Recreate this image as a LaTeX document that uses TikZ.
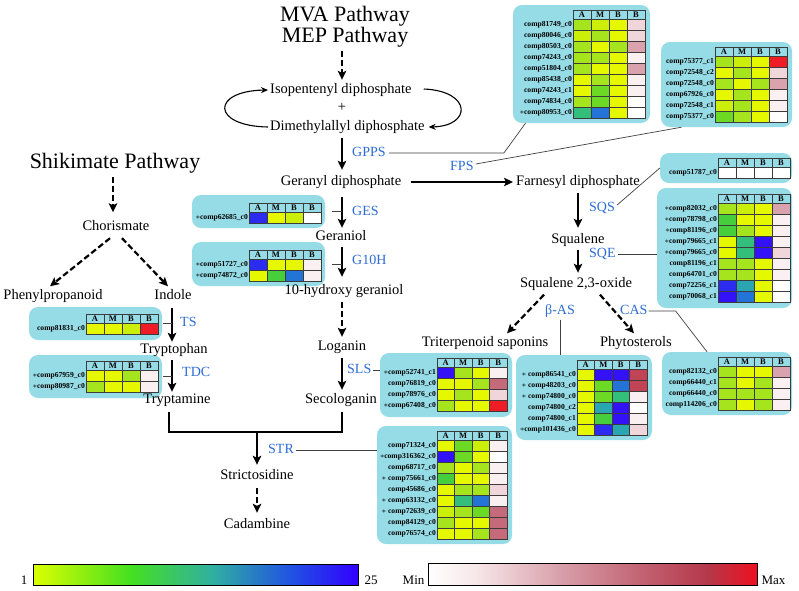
\documentclass[tikz,border=0pt]{standalone}
\usepackage{fontspec}
\setmainfont{Liberation Serif}
\usetikzlibrary{arrows.meta}
\definecolor{panelc}{RGB}{150,220,230}
\definecolor{gridc}{RGB}{60,60,60}
\definecolor{enzc}{RGB}{46,108,212}
\definecolor{hY}{HTML}{E6F800}
\definecolor{hYG}{HTML}{CCEF0A}
\definecolor{hLG}{HTML}{A6E41E}
\definecolor{hG}{HTML}{6CDA24}
\definecolor{hGG}{HTML}{46CE3C}
\definecolor{hTG}{HTML}{34BE7C}
\definecolor{hT}{HTML}{2AA6B2}
\definecolor{hLB}{HTML}{2474D8}
\definecolor{hB}{HTML}{2C2CF0}
\definecolor{hV}{HTML}{3412F8}
\definecolor{hW}{HTML}{FFFFFF}
\definecolor{hP1}{HTML}{FAF0F1}
\definecolor{hP2}{HTML}{F0D6DA}
\definecolor{hP3}{HTML}{DAA2AC}
\definecolor{hP4}{HTML}{C46A7A}
\definecolor{hP5}{HTML}{C04456}
\definecolor{hR}{HTML}{EE1C26}
\definecolor{cbA}{HTML}{DCFF00}
\definecolor{cbB}{HTML}{44E020}
\definecolor{cbC}{HTML}{30B0A0}
\definecolor{cbD}{HTML}{2050E4}
\definecolor{cbE}{HTML}{3300FF}
\definecolor{rbA}{HTML}{F6E6E8}
\definecolor{rbB}{HTML}{D8A0AA}
\definecolor{rbC}{HTML}{C26272}
\definecolor{rbD}{HTML}{B4384A}
\definecolor{rbE}{HTML}{EE1020}
\pgfdeclarehorizontalshading{bluebar}{100bp}{color(0bp)=(cbA); color(25bp)=(cbA); color(40bp)=(cbB); color(52.5bp)=(cbC); color(65bp)=(cbD); color(75bp)=(cbE); color(100bp)=(cbE)}
\pgfdeclarehorizontalshading{redbar}{100bp}{color(0bp)=(white); color(25bp)=(white); color(32.5bp)=(rbA); color(45bp)=(rbB); color(57.5bp)=(rbC); color(67.5bp)=(rbD); color(75bp)=(rbE); color(100bp)=(rbE)}
\newcommand\hstar{{\fontsize{8}{8}\selectfont$\ast$}}
\newcommand\hmap[5]{%
  \foreach \hl [count=\hi] in {A,M,B,B}{
    \node[hdr, minimum width=#4pt] (#1h\hi) at ({#2+(\hi-0.5)*#4},{#3+4.5}) {\hl};
  }
  \foreach \lab/\ka/\kb/\kc/\kd [count=\ri] in {#5}{
    \pgfmathsetmacro\ry{#3+9+(\ri-1)*11}
    \filldraw[cell, fill=\ka] (#2,\ry) rectangle ++(#4,11);
    \filldraw[cell, fill=\kb] ({#2+#4},\ry) rectangle ++(#4,11);
    \filldraw[cell, fill=\kc] ({#2+2*#4},\ry) rectangle ++(#4,11);
    \filldraw[cell, fill=\kd] ({#2+3*#4},\ry) rectangle ++(#4,11);
    \node[lab, anchor=east] (#1r\ri) at ({#2-1},{\ry+5.5}) {\lab};
  }
}
\tikzset{
  txt/.style={font=\fontsize{14.5}{16}\selectfont, inner sep=0pt, text height=10pt, text depth=3pt},
  ttl/.style={font=\fontsize{22}{24}\selectfont, inner sep=0pt, text height=14.5pt, text depth=4pt},
  enz/.style={font=\fontsize{14}{16}\selectfont, text=enzc, inner sep=0pt, text height=10pt, text depth=3pt},
  lab/.style={font=\bfseries\fontsize{7.6}{9}\selectfont, inner sep=0pt},
  hdr/.style={font=\bfseries\fontsize{8.5}{9}\selectfont, inner sep=0pt, draw=gridc, line width=0.5pt, fill=panelc, minimum height=9pt},
  cell/.style={draw=gridc, line width=0.5pt},
  pbox/.style={fill=panelc, rounded corners=9pt, inner sep=0pt, draw=none},
  rxn/.style={line width=2.2pt, -{Stealth[length=9pt,width=8.5pt,inset=2pt]}, shorten <=4pt, shorten >=4pt},
  drxn/.style={rxn, dash pattern=on 6pt off 3pt},
  conn/.style={line width=0.7pt, draw=black!75},
  cyc/.style={line width=1.1pt, -{Stealth[length=7pt,width=6pt]}},
  cbt/.style={font=\fontsize{13}{14}\selectfont, inner sep=0pt},
}
\begin{document}
\begin{tikzpicture}[x=1pt,y=-1pt]
\useasboundingbox (0,0) rectangle (799,590);
\fill[white] (0,0) rectangle (799,590);
% ---------- panels ----------
\node[pbox, minimum width=137pt, minimum height=118pt] (p1) at (581.5,64) {};
\node[pbox, minimum width=131pt, minimum height=85pt] (p2) at (726.5,84.5) {};
\node[pbox, minimum width=132pt, minimum height=30pt] (p3) at (726,168) {};
\node[pbox, minimum width=135pt, minimum height=120pt] (p4) at (724.5,248) {};
\node[pbox, minimum width=133pt, minimum height=33pt] (pges) at (258.5,211.5) {};
\node[pbox, minimum width=133pt, minimum height=44pt] (pg10) at (258.5,264) {};
\node[pbox, minimum width=133pt, minimum height=33pt] (pts) at (95.5,323.5) {};
\node[pbox, minimum width=133pt, minimum height=43pt] (ptdc) at (95.5,376.5) {};
\node[pbox, minimum width=132pt, minimum height=64pt] (psls) at (446,385) {};
\node[pbox, minimum width=135pt, minimum height=118pt] (pstr) at (444.5,485) {};
\node[pbox, minimum width=136pt, minimum height=85pt] (pbas) at (584,397.5) {};
\node[pbox, minimum width=130pt, minimum height=63pt] (pcas) at (727,383.5) {};
% ---------- heat maps ----------
\hmap{m1}{573}{10}{18}{comp81749\_c0/hLG/hYG/hY/hP2,
comp80046\_c0/hYG/hLG/hY/hP2,
comp80503\_c0/hLG/hY/hLG/hP3,
comp74243\_c0/hLG/hLG/hY/hP1,
comp51804\_c0/hLG/hY/hY/hP3,
comp85438\_c0/hY/hLG/hY/hP1,
comp74243\_c1/hY/hG/hY/hP1,
comp74834\_c0/hLG/hG/hY/hW,
\hstar comp80953\_c0/hTG/hLB/hY/hW}
\hmap{m2}{715}{47}{18}{comp75377\_c1/hLG/hYG/hY/hR,
comp72548\_c2/hY/hLG/hY/hP2,
comp72548\_c0/hLG/hY/hLG/hP3,
comp67926\_c0/hY/hLG/hY/hP1,
comp72548\_c1/hYG/hLG/hY/hP1,
comp75377\_c0/hG/hLG/hY/hW}
\hmap{m3}{718}{158}{18}{comp51787\_c0/hW/hW/hW/hW}
\hmap{m4}{718}{194}{18}{\hstar comp82032\_c0/hLG/hYG/hY/hP3,
\hstar comp78798\_c0/hGG/hY/hY/hP1,
\hstar comp81196\_c0/hGG/hLG/hY/hP1,
\hstar comp79665\_c1/hY/hTG/hV/hP1,
\hstar comp79665\_c0/hY/hTG/hV/hP2,
comp81196\_c1/hLG/hLG/hY/hP1,
comp64701\_c0/hLG/hLG/hY/hP1,
comp72256\_c1/hB/hT/hY/hW,
comp70068\_c1/hV/hLB/hY/hW}
\hmap{mges}{249}{203}{18}{\hstar comp62685\_c0/hB/hY/hYG/hW}
\hmap{mg10}{249}{250}{18}{\hstar comp51727\_c0/hB/hY/hY/hP1,
\hstar comp74872\_c0/hY/hGG/hLB/hP1}
\hmap{mts}{86}{314}{18}{comp81831\_c0/hY/hY/hYG/hR}
\hmap{mtdc}{86}{361}{18}{\hstar comp67959\_c0/hY/hY/hLG/hP1,
\hstar comp80987\_c0/hLG/hY/hY/hP1}
\hmap{msls}{437}{358}{17.5}{\hstar comp52741\_c1/hV/hLG/hY/hP1,
comp76819\_c0/hY/hY/hLG/hP4,
comp78976\_c0/hY/hLG/hY/hP2,
\hstar comp67408\_c0/hLG/hY/hY/hR}
\hmap{mstr}{437}{431}{17.5}{comp71324\_c0/hY/hG/hYG/hP1,
\hstar comp316362\_c0/hV/hG/hY/hW,
comp68717\_c0/hLG/hY/hLG/hP1,
\hstar\ comp75661\_c0/hGG/hY/hY/hP1,
comp45686\_c0/hY/hLG/hLG/hP2,
\hstar\ comp63132\_c0/hY/hTG/hLB/hP1,
\hstar\ comp72639\_c0/hYG/hLG/hG/hP4,
comp84129\_c0/hLG/hY/hY/hP4,
comp76574\_c0/hY/hY/hLG/hP4}
\hmap{mbas}{577}{360}{17.5}{\hstar\ comp86541\_c0/hY/hV/hV/hP5,
\hstar\ comp48203\_c0/hY/hG/hLB/hP5,
\hstar\ comp74800\_c0/hY/hG/hTG/hP1,
comp74800\_c2/hY/hT/hV/hW,
comp74800\_c1/hY/hGG/hV/hP1,
\hstar comp101436\_c0/hY/hB/hT/hP2}
\hmap{mcas}{718}{357}{18}{comp82132\_c0/hLG/hY/hY/hP3,
comp66440\_c1/hLG/hY/hLG/hP1,
comp66440\_c0/hLG/hLG/hLG/hP1,
comp114206\_c0/hLG/hY/hLG/hP1}
% ---------- compounds ----------
\node[ttl] (mva) at (345,16) {MVA Pathway};
\node[ttl] (mep) at (345,37) {MEP Pathway};
\node[txt, anchor=west] (ipp) at (270,90) {Isopentenyl diphosphate};
\node[txt] (plus) at (342,108) {+};
\node[txt, anchor=west] (dma) at (270,127) {Dimethylallyl diphosphate};
\node[txt] (gpp) at (341,182) {Geranyl diphosphate};
\node[txt] (ger) at (341,237) {Geraniol};
\node[txt] (hg) at (344,291) {10-hydroxy geraniol};
\node[txt] (log) at (342,347) {Loganin};
\node[txt] (sec) at (341,400) {Secologanin};
\node[txt] (far) at (578,182) {Farnesyl diphosphate};
\node[txt] (sq) at (578,240) {Squalene};
\node[txt] (ox) at (576,284) {Squalene 2,3-oxide};
\node[txt] (tri) at (485,343) {Triterpenoid saponins};
\node[txt] (phy) at (636,343) {Phytosterols};
\node[ttl] (shik) at (115,163) {Shikimate Pathway};
\node[txt] (cho) at (116,227) {Chorismate};
\node[txt] (phe) at (53,296) {Phenylpropanoid};
\node[txt] (ind) at (173,296) {Indole};
\node[txt] (trp) at (174,350) {Tryptophan};
\node[txt] (tra) at (177,400) {Tryptamine};
\node[txt] (std) at (257,476) {Strictosidine};
\node[txt] (cad) at (257,525) {Cadambine};
\coordinate (bmid) at (257,432);
% ---------- enzymes ----------
\node[enz, anchor=west] (gpps) at (352,153) {GPPS};
\node[enz, anchor=west] (fps) at (450,167) {FPS};
\node[enz, anchor=west] (ges) at (352,212) {GES};
\node[enz, anchor=west] (g10h) at (352,261) {G10H};
\node[enz, anchor=west] (ts) at (180,323) {TS};
\node[enz, anchor=west] (tdc) at (182,373) {TDC};
\node[enz, anchor=west] (sls) at (347,370) {SLS};
\node[enz, anchor=west] (str) at (268,450) {STR};
\node[enz, anchor=west] (sqs) at (589,208) {SQS};
\node[enz, anchor=west] (sqe) at (589,254) {SQE};
\node[enz] (bas) at (560,311) {β-AS};
\node[enz, anchor=west] (cas) at (620,311) {CAS};
% ---------- reactions ----------
\draw[drxn, shorten <=5pt, shorten >=3.5pt] (mep.south -| plus) -- (ipp.north -| plus);
\draw[cyc] ([xshift=-2pt]dma.west) .. controls (211,126) and (211,91) .. ([xshift=-2pt]ipp.west);
\draw[cyc] ([xshift=12pt,yshift=1pt]ipp.east) .. controls (472,91) and (472,126) .. ([xshift=4pt]dma.east);
\draw[rxn, shorten <=4.5pt, shorten >=5.5pt] (dma.south -| plus) -- (gpp.north -| plus);
\draw[rxn, shorten <=8.5pt, shorten >=2.5pt] (gpp.south -| plus) -- (ger.north -| plus);
\draw[rxn, shorten <=3.5pt, shorten >=7.5pt] (ger.south -| plus) -- (hg.north -| plus);
\draw[drxn, shorten <=4.5pt, shorten >=3.5pt] (hg.south -| plus) -- (log.north -| plus);
\draw[rxn, shorten <=4.5pt, shorten >=3.5pt] (log.south -| plus) -- (sec.north -| plus);
\draw[rxn, line width=2.6pt, shorten <=10pt, shorten >=3pt] (gpp.east) -- (far.west);
\draw[rxn, shorten <=4.5pt, shorten >=5.5pt] (far.south) -- (far.south |- sq.north);
\draw[rxn, shorten <=3.5pt, shorten >=4.5pt] (sq.south) -- (sq.south |- ox.north);
\draw[drxn, shorten <=0pt, shorten >=0pt] ([shift={(-32,4)}]ox.south) -- ([shift={(22,-3)}]tri.north);
\draw[drxn, shorten <=0pt, shorten >=0pt] ([shift={(24,4)}]ox.south) -- ([shift={(-2,-3)}]phy.north);
\draw[drxn, shorten <=5pt, shorten >=8pt] ([xshift=-2pt]shik.south) -- ([xshift=-2pt]shik.south |- cho.north);
\draw[drxn, shorten <=0pt, shorten >=0pt] ([shift={(-6,4.5)}]cho.south) -- ([shift={(-3,-3)}]phe.north);
\draw[drxn, shorten <=0pt, shorten >=0pt] ([shift={(6,4.5)}]cho.south) -- ([shift={(-5,-3)}]ind.north);
\draw[rxn, shorten <=5.5pt, shorten >=1.5pt] ([xshift=-1pt]ind.south) -- ([xshift=-1pt]ind.south |- trp.north);
\draw[rxn, shorten <=3.5pt, shorten >=1.5pt] ([xshift=-2pt]trp.south) -- ([xshift=-2pt]trp.south |- tra.north);
\draw[line width=2.4pt] ([shift={(-8,5.5)}]tra.south) |- ([shift={(1,25.5)}]sec.south) -- ([shift={(1,5.5)}]sec.south);
\draw[rxn, shorten <=0pt, shorten >=4.5pt] (bmid) -- (std.north);
\draw[drxn, shorten <=5.5pt, shorten >=5.5pt] (std.south) -- (cad.north);
% ---------- enzyme connectors ----------
\draw[conn] ([xshift=3pt]gpps.east) -- ++(115,0) -- ([xshift=-56pt]p1.south);
\draw[conn] ([shift={(2,-3)}]fps.east) -- ([xshift=-45pt]p2.south);
\draw[conn] ([shift={(2,-3)}]sqs.east) -- (p3.west);
\draw[conn] ([xshift=2pt]sqe.east) -- (sqe.east -| p4.west);
\draw[conn] ([xshift=7pt]pges.east) -- (pges.east -| plus);
\draw[conn] ([xshift=7pt]pg10.east) -- (pg10.east -| plus);
\draw[conn] ([xshift=1pt]pts.east) -- ([xshift=-1pt]pts.east -| ind);
\draw[conn] ([xshift=1pt]ptdc.east) -- ([xshift=-1pt]ptdc.east -| ind);
\draw[conn] ([xshift=1pt]sls.east) -- (sls.east -| psls.west);
\draw[conn] ([xshift=2pt]str.east) -- (str.east -| pstr.west);
\draw[conn] ([yshift=-2pt]bas.south) -- (bas.south |- pbas.north);
\draw[conn] ([xshift=1pt]cas.east) -- ++(27,0) -- ([xshift=-20pt]pcas.north);
% ---------- colour bars ----------
\node[shade, shading=bluebar, draw=black, line width=0.8pt, minimum width=325pt, minimum height=21pt, inner sep=0pt] (bar1) at (195.5,574.5) {};
\node[shade, shading=redbar, draw=black, line width=0.8pt, minimum width=329pt, minimum height=22pt, inner sep=0pt] (bar2) at (592.5,574) {};
\node[cbt, anchor=base east] (one) at ([shift={(-5,-1)}]bar1.south west) {1};
\node[cbt, anchor=base west] (tf) at ([shift={(6,-1)}]bar1.south east) {25};
\node[cbt, anchor=base east] (mn) at ([shift={(-3,-1)}]bar2.south west) {Min};
\node[cbt, anchor=base west] (mx) at ([shift={(4,-1)}]bar2.south east) {Max};
\end{tikzpicture}
\end{document}
